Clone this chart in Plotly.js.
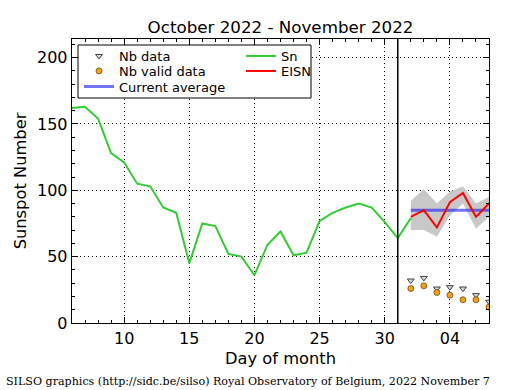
<!DOCTYPE html>
<html>
<head>
<meta charset="utf-8">
<script src="https://cdn.plot.ly/plotly-3.0.1.min.js"></script>
<style>html,body{margin:0;padding:0;background:#fff;}#chart{width:515px;height:390px;}</style>
</head>
<body>
<div id="chart"></div>
<script>
// ---- data ----
const snDays = [6,7,8,9,10,11,12,13,14,15,16,17,18,19,20,21,22,23,24,25,26,27,28,29,30,31,32];
const snValues = [162,163,154,128,121,105,103,87,83,45,75,73,52,50,36,59,69,51,53,77,83,87,90,87,76,64,79];
const novDays = [32,33,34,35,36,37,38];
const eisnValues = [80,85,72,91,98,80,90];
const eisnUpper = [92,101,90,99,103,90,95];
const eisnLower = [70,70,65,81,90,71,80];
const currentAverage = [85,85,85,85,85,85,85];
const nbData = [32,34,26,27,26,21,16];
const nbValidData = [26,28,23,21,17.5,17.5,12];
const splitDay = 31;
const xTickVals = [10,15,20,25,30,35];
const xTickText = ['10','15','20','25','30','04'];
const yTickVals = [0,50,100,150,200];

// ---- geometry helpers (pixels -> paper) ----
const W = 515, H = 390;
const L = 72, R = 489, T = 39, B = 323;
const px = x => (x - L) / (R - L);
const py = y => (B - y) / (B - T);

const font = 'DejaVu Sans, sans-serif';

const traces = [
  {x: novDays, y: eisnLower, type:'scatter', mode:'lines', line:{width:0, color:'#c8c8c8'}, showlegend:false, hoverinfo:'skip'},
  {x: novDays, y: eisnUpper, type:'scatter', mode:'lines', fill:'tonexty', fillcolor:'#c8c8c8', line:{width:0, color:'#c8c8c8'}, showlegend:false, hoverinfo:'skip'},
  {x: novDays, y: nbData, type:'scatter', mode:'markers', name:'Nb data', legend:'legend',
   marker:{symbol:'triangle-down', size:6, color:'#d8d8d8', line:{color:'#404040', width:1}}},
  {x: novDays, y: nbValidData, type:'scatter', mode:'markers', name:'Nb valid data', legend:'legend2',
   marker:{symbol:'circle', size:6, color:'#f0a020', line:{color:'#604000', width:0.7}}},
  {x: novDays, y: currentAverage, type:'scatter', mode:'lines', name:'Current average', legend:'legend3',
   line:{color:'rgba(40,40,240,0.65)', width:3}},
  {x: snDays, y: snValues, type:'scatter', mode:'lines', name:'Sn', legend:'legend4',
   line:{color:'#33cc33', width:2}},
  {x: novDays, y: eisnValues, type:'scatter', mode:'lines', name:'EISN', legend:'legend5',
   line:{color:'#ff0000', width:2}}
];

const axisCommon = {
  showline:true, linecolor:'black', linewidth:1.3, mirror:'allticks',
  ticks:'inside', ticklen:6, tickwidth:1, tickcolor:'black',
  showgrid:true, gridcolor:'black', griddash:'1px,3px', gridwidth:1,
  zeroline:false, tickfont:{family:font, size:16, color:'black'}
};

const legendFont = {family:font, size:13, color:'black'};
function legendAt(xPx, yPx) {
  return {x:px(xPx), y:py(yPx), xanchor:'left', yanchor:'middle', bgcolor:'rgba(0,0,0,0)',
          borderwidth:0, font:legendFont, itemwidth:30};
}

const layout = {
  width: W, height: H,
  margin:{l:L, r:W-R, t:T, b:H-B, pad:0},
  paper_bgcolor:'white', plot_bgcolor:'white',
  font:{family:font, color:'black'},
  title:{text:'October 2022 - November 2022', font:{family:font, size:16.7, color:'black'},
         x:0.5, xref:'paper', y:1-27/H, yref:'container', yanchor:'middle'},
  xaxis: Object.assign({}, axisCommon, {
    range:[6,38], tickmode:'array', tickvals:xTickVals, ticktext:xTickText,
    minor:{tickmode:'linear', tick0:0, dtick:1, ticks:'inside', ticklen:3, tickcolor:'black', showgrid:false},
    title:{text:'Day of month', font:{family:font, size:16.3, color:'black'}, standoff:6}
  }),
  yaxis: Object.assign({}, axisCommon, {
    range:[0,214], tickmode:'array', tickvals:yTickVals,
    minor:{tickmode:'linear', tick0:0, dtick:10, ticks:'inside', ticklen:3, tickcolor:'black', showgrid:false},
    title:{text:'Sunspot Number', font:{family:font, size:16.3, color:'black'}, standoff:6}
  }),
  shapes:[
    {type:'line', xref:'x', yref:'paper', x0:splitDay, x1:splitDay, y0:0, y1:1, line:{color:'black', width:1.5}},
    {type:'rect', xref:'paper', yref:'paper', x0:px(78), x1:px(311), y0:py(98), y1:py(45),
     line:{color:'black', width:1}, fillcolor:'white', layer:'above'}
  ],
  legend: legendAt(79, 56),
  legend2: legendAt(79, 71),
  legend3: legendAt(79, 86.5),
  legend4: legendAt(241, 56),
  legend5: legendAt(241, 71),
  annotations:[
    {text:'SILSO graphics (http://sidc.be/silso) Royal Observatory of Belgium, 2022 November 7',
     xref:'paper', yref:'paper', x:px(4), y:py(381), xanchor:'left', yanchor:'middle', showarrow:false,
     font:{family:'DejaVu Serif, serif', size:11.1, color:'black'}}
  ],
  showlegend:true
};

Plotly.newPlot('chart', traces, layout, {staticPlot:true, displayModeBar:false});
</script>
</body>
</html>
